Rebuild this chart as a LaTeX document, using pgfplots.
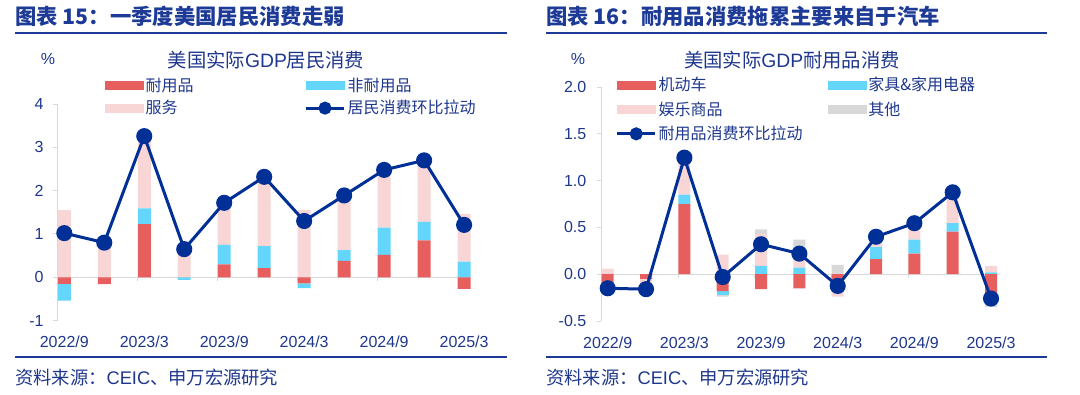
\documentclass[border=0pt]{standalone}
\usepackage{pgfplots}
\usepackage{pgfplotstable}
\pgfplotsset{compat=1.18}
\usepackage{fontspec}
\setmainfont{Liberation Sans}
\newfontfamily\cjk{Noto Sans CJK SC}
\newfontfamily\lat{Liberation Sans}
\definecolor{navy}{RGB}{0,48,150}
\definecolor{tblue}{RGB}{28,58,150}
\definecolor{txt}{RGB}{30,55,140}
\definecolor{redc}{RGB}{230,94,94}
\definecolor{bluec}{RGB}{100,214,252}
\definecolor{pinkc}{RGB}{249,214,214}
\definecolor{grayc}{RGB}{216,216,216}
\definecolor{axc}{RGB}{217,217,217}

% left panel: durable, nondurable, services (positive and negative parts)
\pgfplotstableread{
x a b c
0 0 0 1.55
1 0 0 0.94
2 1.23 0.36 1.67
3 0 0 0.71
4 0.30 0.45 0.97
5 0.21 0.51 1.58
6 0 0 1.55
7 0.38 0.25 1.26
8 0.52 0.63 1.33
9 0.85 0.43 1.42
10 0 0.36 1.10
}\Lpos
\pgfplotstableread{
x a b c
0 -0.15 -0.39 0
1 -0.16 0 0
2 0 0 0
3 0 -0.06 0
4 0 0 0
5 0 0 0
6 -0.14 -0.11 0
7 0 0 0
8 0 0 0
9 0 0 0
10 -0.27 0 0
}\Lneg
\pgfplotstableread{
x y
0 1.02
1 0.80
2 3.26
3 0.65
4 1.72
5 2.32
6 1.30
7 1.89
8 2.48
9 2.70
10 1.21
}\Lline
% right panel: motor vehicles, furniture, recreation, other
\pgfplotstableread{
x a b c d
0 0 0 0.06 0
1 0 0 0 0
2 0.75 0.10 0.40 0
3 0 0 0.21 0
4 0 0.09 0.34 0.05
5 0 0.07 0.20 0.10
6 0 0 0 0.10
7 0.16 0.13 0.11 0
8 0.22 0.15 0.175 0
9 0.455 0.09 0.33 0
10 0 0.02 0.07 0
}\Rpos
\pgfplotstableread{
x a b c d
0 -0.20 0 0 -0.01
1 -0.05 0 -0.11 0
2 0 0 0 0
3 -0.18 -0.04 0 -0.02
4 -0.16 0 0 0
5 -0.15 0 0 0
6 -0.19 0 -0.05 0
7 0 0 0 0
8 0 0 0 0
9 0 0 0 0
10 -0.30 0 0 -0.05
}\Rneg
\pgfplotstableread{
x y
0 -0.15
1 -0.16
2 1.245
3 -0.03
4 0.32
5 0.22
6 -0.125
7 0.40
8 0.545
9 0.875
10 -0.26
}\Rline

\pgfplotsset{
  frameL/.style={at={(42.975pt,-240.45pt)}, anchor=south west, scale only axis,
    width=310.2pt, height=162.4pt, xmin=-0.175, xmax=10.17, ymin=-1, ymax=4},
  frameR/.style={at={(450.75pt,-240.75pt)}, anchor=south west, scale only axis,
    width=297.4pt, height=175.5pt, xmin=-0.175, xmax=10.17, ymin=-0.5, ymax=2.0},
  visaxis/.style={
    axis y line*=left, axis x line*=bottom,
    x axis line style={draw=none}, xtick style={draw=none},
    y axis line style={axc, line width=0.75pt},
    ytick style={axc, line width=0.75pt},
    tick align=outside, major tick length=3pt,
    xtick={0,2,4,6,8,10},
    xticklabels={2022/9,2023/3,2023/9,2024/3,2024/9,2025/3},
    ticklabel style={font=\fontsize{12}{12}\selectfont, text=txt},
    /pgf/number format/assume math mode=true,
    xticklabel style={yshift=-5.25pt},
    extra y ticks={0}, extra y tick labels={},
    extra y tick style={grid=major, major grid style={axc, line width=0.75pt}, major tick length=0pt},
  },
  swatch/.style={legend image code/.code={\fill[#1] (0pt,-3pt) rectangle (28.5pt,3pt);}},
  lineimg/.style={legend image code/.code={\draw[navy,line width=2.25pt] (0pt,0pt) -- (28.5pt,0pt); \fill[navy] (14.25pt,0pt) circle (3.75pt);}},
  legfont/.style={font=\cjk\fontsize{12}{12}\selectfont, text=txt},
}

\begin{document}
\begin{tikzpicture}[x=0.75pt,y=-0.75pt]
\path (0,0) rectangle (1080,394);

% ===== LEFT PANEL =====
\node[anchor=west, inner sep=0pt, text=tblue, font=\cjk\bfseries\fontsize{16}{16}\selectfont] at (15,16) {图表 15：一季度美国居民消费走弱};
\draw[tblue, line width=1.5pt] (15,33) -- (507,33);
\node[text=txt, font=\fontsize{12}{12}\selectfont] at (48,59) {\%};
\node[text=txt, font=\cjk\fontsize{14.5}{14.5}\selectfont] at (266,60) {美国实际{\lat GDP}居民消费};
\draw[tblue, line width=1.5pt] (15,356.7) -- (507,356.7);
\node[anchor=west, inner sep=0pt, text=txt, font=\cjk\fontsize{13.7}{13.7}\selectfont] at (15,378) {资料来源：{\lat CEIC}、申万宏源研究};

\begin{axis}[frameL, visaxis, ytick={-1,0,1,2,3,4}, yticklabel style={xshift=-3.75pt},
  ybar stacked, bar width=9.75pt]
\addplot[fill=redc, draw=none] table[x=x,y=a]{\Lpos};
\addplot[fill=bluec, draw=none] table[x=x,y=b]{\Lpos};
\addplot[fill=pinkc, draw=none] table[x=x,y=c]{\Lpos};
\draw[axc, line width=0.75pt] (axis cs:1.8375,0) -- ++(0pt,-3pt);
\draw[axc, line width=0.75pt] (axis cs:3.8375,0) -- ++(0pt,-3pt);
\draw[axc, line width=0.75pt] (axis cs:5.8375,0) -- ++(0pt,-3pt);
\draw[axc, line width=0.75pt] (axis cs:7.8375,0) -- ++(0pt,-3pt);
\end{axis}
\begin{axis}[frameL, hide axis, ybar stacked, bar width=9.75pt]
\addplot[fill=redc, draw=none] table[x=x,y=a]{\Lneg};
\addplot[fill=bluec, draw=none] table[x=x,y=b]{\Lneg};
\addplot[fill=pinkc, draw=none] table[x=x,y=c]{\Lneg};
\end{axis}
\begin{axis}[frameL, hide axis, clip=false,
  legend columns=2, legend cell align=left,
  legend style={at={(0.1153,1.1206)}, anchor=north west, draw=none, fill=none,
    inner sep=0pt, outer sep=0pt, row sep=5.25pt, legfont,
    nodes={inner xsep=1.5pt, inner ysep=0pt},
    /tikz/every even column/.append style={column sep=81.75pt}}]
\addlegendimage{swatch=redc}
\addlegendentry{耐用品}
\addlegendimage{swatch=bluec}
\addlegendentry{非耐用品}
\addlegendimage{swatch=pinkc}
\addlegendentry{服务}
\addplot[navy, line width=2.25pt, mark=*, mark size=4.9pt, mark options={fill=navy, draw=navy}, lineimg] table[x=x,y=y]{\Lline};
\addlegendentry{居民消费环比拉动}
\end{axis}

% ===== RIGHT PANEL =====
\node[anchor=west, inner sep=0pt, text=tblue, font=\cjk\bfseries\fontsize{16}{16}\selectfont] at (546,16) {图表 16：耐用品消费拖累主要来自于汽车};
\draw[tblue, line width=1.5pt] (546,33) -- (1047,33);
\node[text=txt, font=\fontsize{12}{12}\selectfont] at (578,59) {\%};
\node[text=txt, font=\cjk\fontsize{14.5}{14.5}\selectfont] at (792,60) {美国实际{\lat GDP}耐用品消费};
\draw[tblue, line width=1.5pt] (546,356.7) -- (1047,356.7);
\node[anchor=west, inner sep=0pt, text=txt, font=\cjk\fontsize{13.7}{13.7}\selectfont] at (546,378) {资料来源：{\lat CEIC}、申万宏源研究};

\begin{axis}[frameR, visaxis, ytick={-0.5,0,0.5,1,1.5,2},
  yticklabel style={xshift=-4.5pt, /pgf/number format/.cd, fixed, fixed zerofill, precision=1},
  ybar stacked, bar width=9pt]
\addplot[fill=redc, draw=none] table[x=x,y=a]{\Rpos};
\addplot[fill=bluec, draw=none] table[x=x,y=b]{\Rpos};
\addplot[fill=pinkc, draw=none] table[x=x,y=c]{\Rpos};
\addplot[fill=grayc, draw=none] table[x=x,y=d]{\Rpos};
\draw[axc, line width=0.75pt] (axis cs:1.8375,0) -- ++(0pt,-3pt);
\draw[axc, line width=0.75pt] (axis cs:3.8375,0) -- ++(0pt,-3pt);
\draw[axc, line width=0.75pt] (axis cs:5.8375,0) -- ++(0pt,-3pt);
\draw[axc, line width=0.75pt] (axis cs:7.8375,0) -- ++(0pt,-3pt);
\end{axis}
\begin{axis}[frameR, hide axis, ybar stacked, bar width=9pt]
\addplot[fill=redc, draw=none] table[x=x,y=a]{\Rneg};
\addplot[fill=bluec, draw=none] table[x=x,y=b]{\Rneg};
\addplot[fill=pinkc, draw=none] table[x=x,y=c]{\Rneg};
\addplot[fill=grayc, draw=none] table[x=x,y=d]{\Rneg};
\end{axis}
\begin{axis}[frameR, hide axis, clip=false,
  legend columns=2, legend cell align=left,
  legend style={at={(0.0371,1.0427)}, anchor=north west, draw=none, fill=none,
    inner sep=0pt, outer sep=0pt, row sep=6.75pt, legfont,
    nodes={inner xsep=1.5pt, inner ysep=0pt},
    /tikz/every even column/.append style={column sep=17.25pt}}]
\addlegendimage{swatch=redc}
\addlegendentry{机动车}
\addlegendimage{swatch=bluec}
\addlegendentry{家具\&家用电器}
\addlegendimage{swatch=pinkc}
\addlegendentry{娱乐商品}
\addlegendimage{swatch=grayc}
\addlegendentry{其他}
\addplot[navy, line width=2.25pt, mark=*, mark size=4.9pt, mark options={fill=navy, draw=navy}, lineimg] table[x=x,y=y]{\Rline};
\addlegendentry{耐用品消费环比拉动}
\end{axis}
\end{tikzpicture}
\end{document}
